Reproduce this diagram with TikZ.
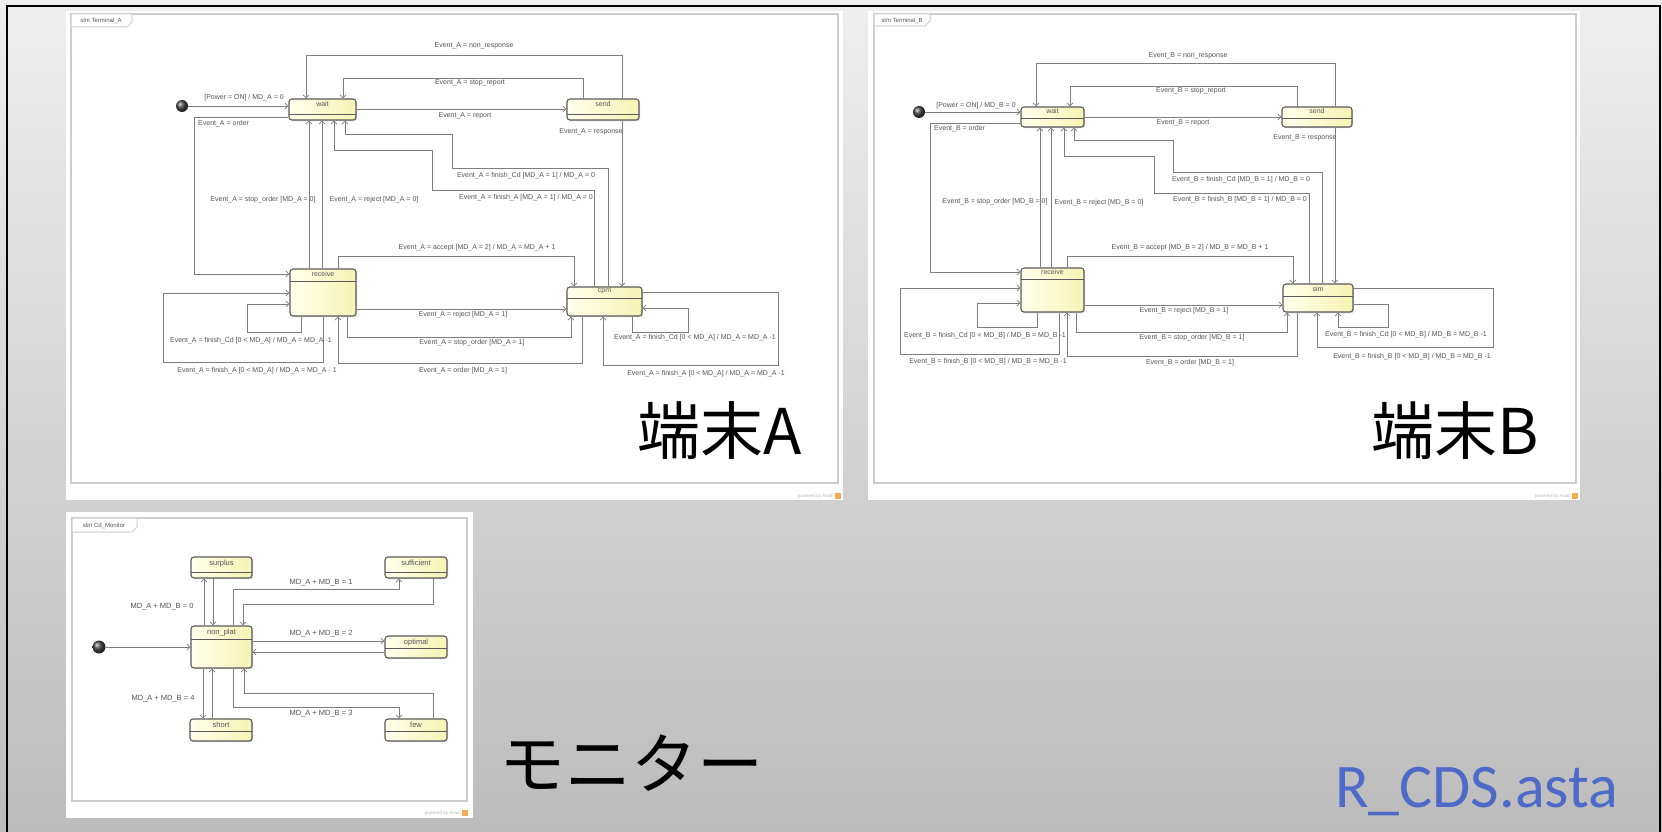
\documentclass[tikz,border=0pt]{standalone}
\usepackage{fontspec}
\usetikzlibrary{arrows.meta,shadows}
\newfontfamily\lab{Liberation Sans}
\newfontfamily\cjk{Noto Sans CJK JP}
\newfontfamily\calfont{Carlito}
\definecolor{bgtop}{RGB}{238,238,238}
\definecolor{bgbot}{RGB}{188,188,188}
\definecolor{frameC}{RGB}{205,205,205}
\definecolor{lineC}{RGB}{125,125,125}
\definecolor{labC}{RGB}{85,85,85}
\definecolor{stB}{RGB}{90,90,90}
\definecolor{stY}{RGB}{246,243,180}
\definecolor{stW}{RGB}{255,255,236}
\definecolor{blueT}{RGB}{78,106,200}
\definecolor{astahO}{RGB}{245,170,80}
\begin{document}
\begin{tikzpicture}[x=1pt,y=-1pt,
  st/.style={draw=stB, line width=1.1pt, rounded corners=3pt, left color=stW, right color=stY,
    inner sep=0pt, drop shadow={shadow xshift=1.2pt, shadow yshift=-1.2pt, opacity=0.3},
    path picture={\draw[stB, line width=0.7pt] ([yshift=-#1]path picture bounding box.north west) -- ([yshift=-#1]path picture bounding box.north east);}},
  st/.default=12pt,
  sttl/.style={anchor=north, inner sep=3pt, text=labC, font=\lab\fontsize{7}{8}\selectfont},
  tr/.style={draw=lineC, line width=0.8pt, -{Straight Barb[length=3pt,width=6pt]}},
  lb/.style={inner sep=0pt, text=labC, font=\lab\fontsize{7}{8}\selectfont},
  lbm/.style={inner sep=0pt, text=labC, font=\lab\fontsize{7.5}{9}\selectfont},
  ini/.style={circle, inner sep=0pt, minimum size=12pt, ball color=gray!55!black},
  panel/.style={fill=white, draw=none},
  frm/.style={draw=frameC, line width=1.4pt},
  tab/.style={draw=frameC, line width=1pt, fill=white},
  tabt/.style={inner sep=0pt, text=labC, font=\lab\fontsize{6}{7}\selectfont},
  pwr/.style={inner sep=0pt, text=gray!55, font=\lab\fontsize{4.5}{5}\selectfont},
  big/.style={inner sep=0pt, font=\cjk\fontsize{63}{65}\selectfont}
]
\useasboundingbox (0,0) rectangle (1662,832);
% background
\shade[top color=bgtop, bottom color=bgbot] (0,0) rectangle (1662,832);
\draw[black, line width=1.6pt] (7,850) -- (7,6) -- (1660,6) -- (1660,850);

% ================= panel A =================
\fill[panel] (66,11) rectangle (843,500);
\draw[frm] (71,14) rectangle (838,483);
\draw[tab] (71,14) -- (132,14) -- (132,22) -- (127,27) -- (71,27) -- cycle;
\node[tabt] (tabA) at (101,21) {stm Terminal\_A};
\node[pwr, anchor=east] (pwA) at (834,496) {powered by Astah};
\fill[astahO] (835,493) rectangle (841,499);

\node[ini] (iniA) at (182,106) {};
\node[st=15pt, minimum width=67pt, minimum height=21pt, label={[sttl]north:wait}] (waitA) at (322.5,109.5) {};
\node[st=15pt, minimum width=72pt, minimum height=21pt, label={[sttl]north:send}] (sendA) at (603,109.5) {};
\node[st=12pt, minimum width=66pt, minimum height=47pt, label={[sttl]north:receive}] (recvA) at (323,292.5) {};
\node[st=11pt, minimum width=75pt, minimum height=29pt, label={[sttl, inner sep=2pt]north:cpm}] (cpmA) at (604.5,301.5) {};

\draw[tr] (iniA) -- (iniA -| waitA.west);
\draw[tr] (sendA.north -| 622,0) -- (622,55) -- (306,55) -- (waitA.north -| 306,0);
\draw[tr] (sendA.north -| 583,0) -- (583,78) -- (343,78) -- (waitA.north -| 343,0);
\draw[tr] (waitA.east |- 0,109) -- (sendA.west |- 0,109);
\draw[tr] (sendA.south -| 622,0) -- (cpmA.north -| 622,0);
\draw[tr] (waitA.west |- 0,117) -- (194,117) -- (194,274) -- (recvA.west |- 0,274);
\draw[tr] (recvA.north -| 309,0) -- (waitA.south -| 309,0);
\draw[tr] (recvA.north -| 322,0) -- (waitA.south -| 322,0);
\draw[tr] (cpmA.north -| 608,0) -- (608,168) -- (452,168) -- (452,134) -- (345,134) -- (waitA.south -| 345,0);
\draw[tr] (cpmA.north -| 594,0) -- (594,190) -- (432,190) -- (432,150) -- (334,150) -- (waitA.south -| 334,0);
\draw[tr] (recvA.north -| 338,0) -- (338,256) -- (574,256) -- (cpmA.north -| 574,0);
\draw[tr] (recvA.east |- 0,309) -- (cpmA.west |- 0,309);
\draw[tr] (recvA.south -| 347,0) -- (347,337) -- (571,337) -- (cpmA.south -| 571,0);
\draw[tr] (cpmA.south -| 582,0) -- (582,363) -- (338,363) -- (recvA.south -| 338,0);
\draw[tr] (recvA.south -| 301,0) -- (301,332) -- (247,332) -- (247,304) -- (recvA.west |- 0,304);
\draw[tr] (recvA.south -| 323,0) -- (323,362) -- (163,362) -- (163,293) -- (recvA.west |- 0,293);
\draw[tr] (cpmA.south -| 632,0) -- (632,332) -- (688,332) -- (688,308) -- (cpmA.east |- 0,308);
\draw[tr] (cpmA.east |- 0,292) -- (778,292) -- (778,365) -- (603,365) -- (cpmA.south -| 603,0);

\node[lb] (la1) at (244,98) {[Power = ON] / MD\_A = 0};
\node[lb] (la2) at (474,46) {Event\_A = non\_response};
\node[lb] (la3) at (470,83) {Event\_A = stop\_report};
\node[lb] (la4) at (465,116) {Event\_A = report};
\node[lb] (la5) at (591,132) {Event\_A = response};
\node[lb, anchor=west] (la6) at (198,124) {Event\_A = order};
\node[lb] (la7) at (263,200) {Event\_A = stop\_order [MD\_A = 0]};
\node[lb] (la8) at (374,200) {Event\_A = reject [MD\_A = 0]};
\node[lb] (la9) at (526,176) {Event\_A = finish\_Cd [MD\_A = 1] / MD\_A = 0};
\node[lb] (la10) at (526,198) {Event\_A = finish\_A [MD\_A = 1] / MD\_A = 0};
\node[lb] (la11) at (477,248) {Event\_A = accept [MD\_A = 2] / MD\_A = MD\_A + 1};
\node[lb] (la12) at (463,315) {Event\_A = reject [MD\_A = 1]};
\node[lb] (la13) at (472,343) {Event\_A = stop\_order [MD\_A = 1]};
\node[lb] (la14) at (463,371) {Event\_A = order [MD\_A = 1]};
\node[lb] (la15) at (251,341) {Event\_A = finish\_Cd [0 < MD\_A] / MD\_A = MD\_A -1};
\node[lb] (la16) at (257,371) {Event\_A = finish\_A [0 < MD\_A] / MD\_A = MD\_A - 1};
\node[lb] (la17) at (695,338) {Event\_A = finish\_Cd [0 < MD\_A] / MD\_A = MD\_A -1};
\node[lb] (la18) at (706,374) {Event\_A = finish\_A [0 < MD\_A] / MD\_A = MD\_A -1};

\node[big, anchor=base east] (tA) at (802,454) {端末A};

% ================= panel B =================
\fill[panel] (868,11) rectangle (1580,500);
\draw[frm] (874,14) rectangle (1576,483);
\draw[tab] (874,14) -- (930,14) -- (930,21) -- (925,26) -- (874,26) -- cycle;
\node[tabt] (tabB) at (902,20.5) {stm Terminal\_B};
\node[pwr, anchor=east] (pwB) at (1571,496) {powered by Astah};
\fill[astahO] (1572,493) rectangle (1578,499);

\node[ini] (iniB) at (919,112) {};
\node[st=11pt, minimum width=63pt, minimum height=20pt, label={[sttl, inner sep=2pt]north:wait}] (waitB) at (1052.5,117) {};
\node[st=11pt, minimum width=70pt, minimum height=20pt, label={[sttl, inner sep=2pt]north:send}] (sendB) at (1317,117) {};
\node[st=11pt, minimum width=63pt, minimum height=44pt, label={[sttl, inner sep=2pt]north:receive}] (recvB) at (1052.5,290) {};
\node[st=12pt, minimum width=70pt, minimum height=28pt, label={[sttl, inner sep=2.5pt]north:sim}] (simB) at (1318,298) {};

\draw[tr] (iniB) -- (iniB -| waitB.west);
\draw[tr] (sendB.north -| 1335,0) -- (1335,63) -- (1036,63) -- (waitB.north -| 1036,0);
\draw[tr] (sendB.north -| 1297,0) -- (1297,86) -- (1070,86) -- (waitB.north -| 1070,0);
\draw[tr] (waitB.east |- 0,117) -- (sendB.west |- 0,117);
\draw[tr] (sendB.south -| 1335,0) -- (simB.north -| 1335,0);
\draw[tr] (waitB.west |- 0,123) -- (930,123) -- (930,272) -- (recvB.west |- 0,272);
\draw[tr] (recvB.north -| 1040,0) -- (waitB.south -| 1040,0);
\draw[tr] (recvB.north -| 1051,0) -- (waitB.south -| 1051,0);
\draw[tr] (simB.north -| 1322,0) -- (1322,172) -- (1173,172) -- (1173,140) -- (1074,140) -- (waitB.south -| 1074,0);
\draw[tr] (simB.north -| 1309,0) -- (1309,193) -- (1154,193) -- (1154,156) -- (1064,156) -- (waitB.south -| 1064,0);
\draw[tr] (recvB.north -| 1067,0) -- (1067,256) -- (1293,256) -- (simB.north -| 1293,0);
\draw[tr] (recvB.east |- 0,305) -- (simB.west |- 0,305);
\draw[tr] (recvB.south -| 1076,0) -- (1076,332) -- (1287,332) -- (simB.south -| 1287,0);
\draw[tr] (simB.south -| 1297,0) -- (1297,356) -- (1067,356) -- (recvB.south -| 1067,0);
\draw[tr] (recvB.south -| 1037,0) -- (1037,327) -- (977,327) -- (977,303) -- (recvB.west |- 0,303);
\draw[tr] (recvB.south -| 1059,0) -- (1059,354) -- (900,354) -- (900,288) -- (recvB.west |- 0,288);
\draw[tr] (simB.east |- 0,304) -- (1388,304) -- (1388,327) -- (1338,327) -- (simB.south -| 1338,0);
\draw[tr] (simB.east |- 0,288) -- (1493,288) -- (1493,347) -- (1317,347) -- (simB.south -| 1317,0);

\node[lb] (lb1) at (976,106) {[Power = ON] / MD\_B = 0};
\node[lb] (lb2) at (1188,56) {Event\_B = non\_response};
\node[lb] (lb3) at (1191,91) {Event\_B = stop\_report};
\node[lb] (lb4) at (1183,123) {Event\_B = report};
\node[lb] (lb5) at (1305,138) {Event\_B = response};
\node[lb, anchor=west] (lb6) at (934,129) {Event\_B = order};
\node[lb] (lb7) at (995,202) {Event\_B = stop\_order [MD\_B = 0]};
\node[lb] (lb8) at (1099,203) {Event\_B = reject [MD\_B = 0]};
\node[lb] (lb9) at (1241,180) {Event\_B = finish\_Cd [MD\_B = 1] / MD\_B = 0};
\node[lb] (lb10) at (1240,200) {Event\_B = finish\_B [MD\_B = 1] / MD\_B = 0};
\node[lb] (lb11) at (1190,248) {Event\_B = accept [MD\_B = 2] / MD\_B = MD\_B + 1};
\node[lb] (lb12) at (1184,311) {Event\_B = reject [MD\_B = 1]};
\node[lb] (lb13) at (1192,338) {Event\_B = stop\_order [MD\_B = 1]};
\node[lb] (lb14) at (1190,363) {Event\_B = order [MD\_B = 1]};
\node[lb] (lb15) at (985,336) {Event\_B = finish\_Cd [0 < MD\_B] / MD\_B = MD\_B -1};
\node[lb] (lb16) at (988,362) {Event\_B = finish\_B [0 < MD\_B] / MD\_B = MD\_B -1};
\node[lb] (lb17) at (1406,335) {Event\_B = finish\_Cd [0 < MD\_B] / MD\_B = MD\_B -1};
\node[lb] (lb18) at (1412,357) {Event\_B = finish\_B [0 < MD\_B] / MD\_B = MD\_B -1};

\node[big, anchor=base east] (tB) at (1539,454) {端末B};

% ================= panel Monitor =================
\fill[panel] (66,512) rectangle (473,818);
\draw[frm] (72,518) rectangle (467,801);
\draw[tab] (72,518) -- (137,518) -- (137,527) -- (132,532) -- (72,532) -- cycle;
\node[tabt] (tabM) at (104,525.5) {stm Cd\_Monitor};
\node[pwr, anchor=east] (pwM) at (461,813) {powered by Astah};
\fill[astahO] (462,810) rectangle (468,816);

\node[ini, minimum size=13pt] (iniM) at (99,647) {};
\node[st=15pt, minimum width=61pt, minimum height=21pt, label={[sttl, font=\lab\fontsize{7.5}{9}\selectfont]north:surplus}] (surplus) at (221.5,567.5) {};
\node[st=15pt, minimum width=62pt, minimum height=21pt, label={[sttl, font=\lab\fontsize{7.5}{9}\selectfont]north:sufficient}] (suff) at (416,567.5) {};
\node[st=13pt, minimum width=61pt, minimum height=42pt, label={[sttl, font=\lab\fontsize{7.5}{9}\selectfont]north:non\_plat}] (nonplat) at (221.5,647) {};
\node[st=12pt, minimum width=62pt, minimum height=22pt, label={[sttl, font=\lab\fontsize{7.5}{9}\selectfont]north:optimal}] (opt) at (416,647) {};
\node[st=12pt, minimum width=62pt, minimum height=22pt, label={[sttl, font=\lab\fontsize{7.5}{9}\selectfont]north:short}] (short) at (221,730) {};
\node[st=12pt, minimum width=62pt, minimum height=22pt, label={[sttl, font=\lab\fontsize{7.5}{9}\selectfont]north:few}] (few) at (416,730) {};

\draw[tr] (iniM) -- (iniM -| nonplat.west);
\draw[tr] (nonplat.north -| 204,0) -- (surplus.south -| 204,0);
\draw[tr] (surplus.south -| 213,0) -- (nonplat.north -| 213,0);
\draw[tr] (nonplat.north -| 233,0) -- (233,589) -- (399,589) -- (suff.south -| 399,0);
\draw[tr] (suff.south -| 433,0) -- (433,604) -- (243,604) -- (nonplat.north -| 243,0);
\draw[tr] (nonplat.east |- 0,641) -- (opt.west |- 0,641);
\draw[tr] (opt.west |- 0,652) -- (nonplat.east |- 0,652);
\draw[tr] (nonplat.south -| 203,0) -- (short.north -| 203,0);
\draw[tr] (short.north -| 212,0) -- (nonplat.south -| 212,0);
\draw[tr] (nonplat.south -| 233,0) -- (233,707) -- (399,707) -- (few.north -| 399,0);
\draw[tr] (few.north -| 433,0) -- (433,693) -- (244,693) -- (nonplat.south -| 244,0);

\node[lbm] (lm1) at (162,607) {MD\_A + MD\_B = 0};
\node[lbm] (lm2) at (321,583) {MD\_A + MD\_B = 1};
\node[lbm] (lm3) at (321,634) {MD\_A + MD\_B = 2};
\node[lbm] (lm4) at (163,699) {MD\_A + MD\_B = 4};
\node[lbm] (lm5) at (321,714) {MD\_A + MD\_B = 3};

\node[big, anchor=base west, font=\cjk\fontsize{66}{68}\selectfont] (tM) at (499,788) {モニター};
\node[inner sep=0pt, anchor=base west, text=blueT, font=\calfont\fontsize{62}{64}\selectfont] (tR) at (1335,807) {R\_CDS.asta};
\end{tikzpicture}
\end{document}
